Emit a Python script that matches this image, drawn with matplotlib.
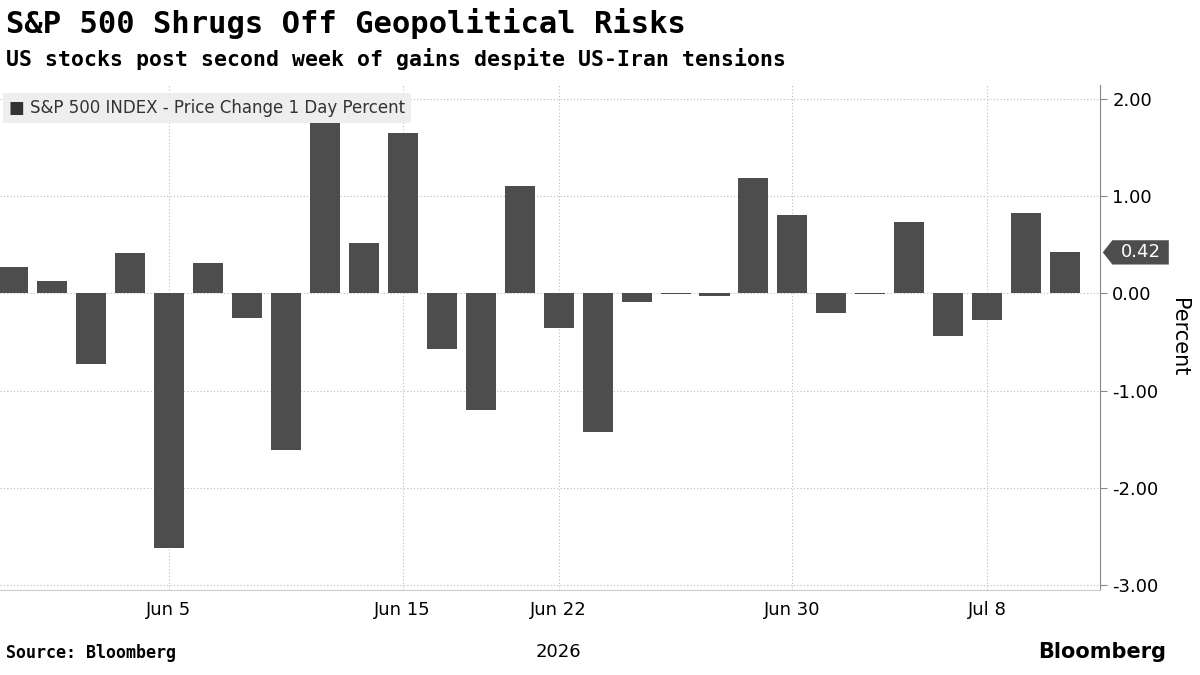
import matplotlib
matplotlib.use("Agg")
import matplotlib.pyplot as plt
from matplotlib.patches import Polygon

dates = ["Jun 1","Jun 2","Jun 3","Jun 4","Jun 5","Jun 8","Jun 9","Jun 10","Jun 11","Jun 12",
         "Jun 15","Jun 16","Jun 17","Jun 18","Jun 22","Jun 23","Jun 24","Jun 25","Jun 26","Jun 29",
         "Jun 30","Jul 1","Jul 2","Jul 6","Jul 7","Jul 8","Jul 9","Jul 10"]
values = [0.27,0.13,-0.73,0.41,-2.62,0.31,-0.25,-1.61,1.75,0.52,
          1.65,-0.57,-1.20,1.10,-0.36,-1.43,-0.09,-0.01,-0.03,1.18,
          0.80,-0.20,-0.01,0.73,-0.44,-0.28,0.82,0.42]
tick_labels = ["Jun 5","Jun 15","Jun 22","Jun 30","Jul 8"]
y_ticks = [2.0,1.0,0.0,-1.0,-2.0,-3.0]

fig = plt.figure(figsize=(12,6.75), dpi=100)
ax = fig.add_axes([0.0, 0.126, 0.917, 0.748])
x = list(range(len(values)))
ax.bar(x, values, width=0.77, color="#4d4d4d", zorder=3)
ax.set_xlim(-0.33, len(values)-0.1)
ax.set_ylim(-3.05, 2.14)
ax.yaxis.tick_right()
ax.yaxis.set_label_position("right")
ax.set_yticks(y_ticks)
ax.set_yticklabels([f"{v:.2f}" for v in y_ticks], fontsize=13)
ax.set_ylabel("Percent", fontsize=15, rotation=270, labelpad=22)
tpos = [dates.index(t) for t in tick_labels]
ax.set_xticks(tpos)
ax.set_xticklabels(tick_labels, fontsize=13)
ax.tick_params(axis="x", length=0, pad=8)
ax.tick_params(axis="y", length=5, color="#888888", direction="out")
ax.grid(True, linestyle=(0,(1,2)), color="#bbbbbb", linewidth=0.8, zorder=0)
for s in ["top","left"]:
    ax.spines[s].set_visible(False)
ax.spines["right"].set_color("#888888")
ax.spines["bottom"].set_color("#cccccc")
ax.text(dates.index("Jun 22"), -0.105, "2026", transform=ax.get_xaxis_transform(),
        ha="center", va="top", fontsize=13)

# last value callout
last = values[-1]
yl = ax.transData.transform((0,last))[1]
fy = fig.transFigure.inverted().transform((0,yl))[1]
fx0 = 0.919
h = 0.018
poly = Polygon([(fx0,fy),(fx0+0.008,fy+h),(fx0+0.055,fy+h),(fx0+0.055,fy-h),(fx0+0.008,fy-h)],
               closed=True, transform=fig.transFigure, facecolor="#4d4d4d", edgecolor="none", clip_on=False)
fig.patches.append(poly)
fig.text(fx0+0.032, fy, f"{last:.2f}", color="white", fontsize=13, ha="center", va="center")

# legend box
ax.text(0.008, 0.955, "\u25A0 S&P 500 INDEX - Price Change 1 Day Percent", transform=ax.transAxes,
        fontsize=12, va="center", ha="left", color="#333333",
        bbox=dict(boxstyle="square,pad=0.35", facecolor="#eeeeee", edgecolor="none"), zorder=5)

fig.text(0.005, 0.965, "S&P 500 Shrugs Off Geopolitical Risks", fontsize=22, fontweight="bold",
         family="DejaVu Sans Mono", va="center")
fig.text(0.005, 0.912, "US stocks post second week of gains despite US-Iran tensions", fontsize=15.5,
         fontweight="bold", family="DejaVu Sans Mono", va="center")
fig.text(0.005, 0.02, "Source: Bloomberg", fontsize=12, fontweight="bold", family="DejaVu Sans Mono", va="bottom")
fig.text(0.972, 0.02, "Bloomberg", fontsize=15, fontweight="bold", ha="right", va="bottom")
fig.savefig("out.png", dpi=100)
